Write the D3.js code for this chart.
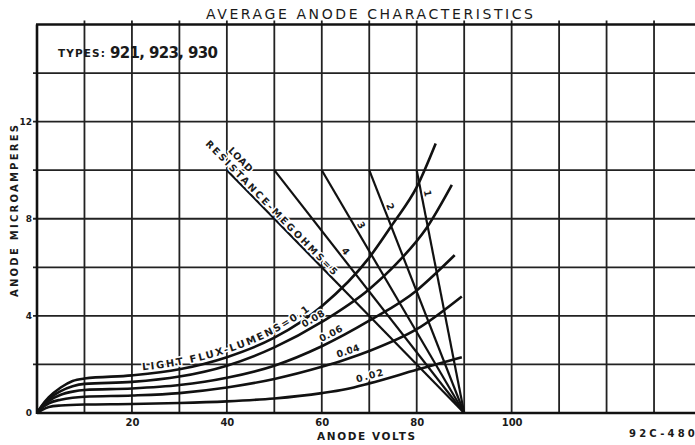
<!DOCTYPE html>
<html><head><meta charset="utf-8">
<script src="https://cdn.jsdelivr.net/npm/d3@7/dist/d3.min.js"></script>
<style>
html,body{margin:0;padding:0;background:#fff;overflow:hidden}
text{font-family:"DejaVu Sans",sans-serif;fill:#1a1a1a}
.lbl{font-weight:bold;paint-order:stroke;stroke:#fff;stroke-width:3px;stroke-linejoin:round}
</style>
</head><body>
<svg id="chart" width="695" height="445"></svg>
<script>
// ---- data ----
const xGrid = [0,10,20,30,40,50,60,70,80,90,100,110,120,130,140];
const yGrid = [0,2,4,6,8,10,12,14,16];
const xTickLabels = [20,40,60,80,100];
const yTickLabels = [0,4,8,12];

const fluxNames = ["0.1","0.08","0.06","0.04","0.02"];
const flux010 = [[0,0],[1,0.3],[2.5,0.65],[5,1.05],[7.5,1.32],[10,1.42],[20,1.55],[30,1.8],[40,2.3],[50,3.1],[60,4.4],[70,6.4],[75,7.8],[80,9.3],[84,11.1]];
const flux008 = [[0,0],[1,0.28],[2.5,0.58],[5,0.9],[7.5,1.1],[10,1.2],[20,1.28],[30,1.5],[40,1.95],[50,2.7],[60,3.75],[70,5.1],[76,6.2],[82,7.6],[87.4,9.4]];
const flux006 = [[0,0],[1,0.25],[2.5,0.5],[5,0.75],[7.5,0.88],[10,0.95],[20,1.01],[30,1.15],[40,1.45],[50,1.95],[60,2.75],[70,3.8],[80,5.05],[84,5.75],[88,6.5]];
const flux004 = [[0,0],[1,0.2],[2.5,0.4],[5,0.55],[7.5,0.63],[10,0.67],[20,0.72],[30,0.82],[40,1.05],[50,1.4],[60,1.9],[65,2.2],[70,2.55],[80,3.45],[89.5,4.8]];
const flux002 = [[0,0],[1,0.12],[2.5,0.25],[5,0.31],[10,0.35],[20,0.37],[30,0.41],[40,0.48],[50,0.6],[60,0.82],[65,0.98],[70,1.22],[80,1.78],[89.5,2.3]];
const fluxSeries = [flux010, flux008, flux006, flux004, flux002];

const loadNames = ["5","4","3","2","1"];
const loadStartVolts = [40,50,60,70,80];
const loadStartCurrent = 10;
const loadEndVolts = 90;

// ---- drawing ----
const svg = d3.select("#chart");
svg.append("rect").attr("width",695).attr("height",445).attr("fill","#fff");

const x = d3.scaleLinear().domain([0,140]).range([37,701.5]);
const y = d3.scaleLinear().domain([0,16]).range([413,24.5]);

const grid = svg.append("g").attr("stroke","#222").attr("stroke-width",1.8);
grid.selectAll(".v").data(xGrid.filter(v=>v>0)).join("line")
  .attr("x1",d=>x(d)).attr("x2",d=>x(d)).attr("y1",y(0)).attr("y2",y(16)-4);
grid.selectAll(".h").data(yGrid.filter(v=>v>0&&v<16)).join("line")
  .attr("x1",x(0)-4).attr("x2",695).attr("y1",d=>y(d)).attr("y2",d=>y(d));

// frame
const fr = svg.append("g").attr("stroke","#111").attr("stroke-width",2.6).attr("fill","none");
fr.append("line").attr("x1",x(0)).attr("x2",x(0)).attr("y1",y(16)).attr("y2",y(0)+1);
fr.append("line").attr("x1",x(0)).attr("x2",695).attr("y1",y(0)).attr("y2",y(0));
fr.append("line").attr("x1",x(0)-1).attr("x2",695).attr("y1",y(16)).attr("y2",y(16));

// axes labels via d3 axes
const yAx = svg.append("g").attr("transform",`translate(${x(0)},0)`)
  .call(d3.axisLeft(y).tickValues(yTickLabels).tickSize(0).tickPadding(5));
yAx.select(".domain").remove();
yAx.selectAll("text").attr("font-family","DejaVu Sans").attr("font-weight","bold").attr("font-size",9).attr("fill","#1a1a1a");

const xAx = svg.append("g").attr("transform",`translate(0,${y(0)})`)
  .call(d3.axisBottom(x).tickValues(xTickLabels).tickSize(0).tickPadding(6));
xAx.select(".domain").remove();
xAx.selectAll("text").attr("font-family","DejaVu Sans").attr("font-weight","bold").attr("font-size",10).attr("fill","#1a1a1a");

// load lines
const loadG = svg.append("g");
loadStartVolts.forEach((v0,i)=>{
  loadG.append("line").attr("x1",x(v0)).attr("y1",y(loadStartCurrent))
    .attr("x2",x(loadEndVolts)).attr("y2",y(0))
    .attr("stroke","#111").attr("stroke-width",2.2);
});

// flux curves
const line = d3.line().x(d=>x(d[0])).y(d=>y(d[1])).curve(d3.curveMonotoneX);
const curveG = svg.append("g");
fluxSeries.forEach((s,i)=>{
  curveG.append("path").attr("id","flux"+i).attr("d",line(s))
    .attr("fill","none").attr("stroke","#111").attr("stroke-width",2.6)
    .attr("stroke-linejoin","round");
});

function lengthAtX(node, tx){
  let lo=0, hi=node.getTotalLength();
  for(let k=0;k<40;k++){const m=(lo+hi)/2; if(node.getPointAtLength(m).x<tx) lo=m; else hi=m;}
  return lo;
}

// curve labels
const curveLabels = [
  {i:0, text:"LIGHT FLUX-LUMENS="+fluxNames[0], sx:143, len:182, fs:10},
  {i:1, text:fluxNames[1], sx:306, len:25, fs:9.5},
  {i:2, text:fluxNames[2], sx:323, len:25, fs:9.5},
  {i:3, text:fluxNames[3], sx:339, len:24, fs:9.5},
  {i:4, text:fluxNames[4], sx:358, len:28, fs:9.5}
];
curveLabels.forEach(c=>{
  const node = document.getElementById("flux"+c.i);
  const L = lengthAtX(node, c.sx);
  svg.append("text").attr("class","lbl").attr("font-size",c.fs).attr("dy",-4)
    .append("textPath").attr("href","#flux"+c.i).attr("startOffset",L)
    .attr("textLength",c.len).attr("lengthAdjust","spacing").text(c.text);
});

// load line labels
function loadFrame(i){
  const x0=x(loadStartVolts[i]), y0=y(loadStartCurrent), x1=x(loadEndVolts), y1=y(0);
  const ang=Math.atan2(y1-y0,x1-x0)*180/Math.PI;
  const len=Math.hypot(x1-x0,y1-y0);
  return svg.append("g").attr("transform",`translate(${x0},${y0}) rotate(${ang})`).datum(len);
}
const f5 = loadFrame(0);
f5.append("text").attr("class","lbl").attr("font-size",9.5).attr("x",-34).attr("y",-2.5)
  .attr("textLength",184).attr("lengthAdjust","spacing").text("RESISTANCE-MEGOHMS="+loadNames[0]);
f5.append("text").attr("class","lbl").attr("font-size",9.5).attr("x",-13).attr("y",-14)
  .attr("textLength",30).attr("lengthAdjust","spacing").text("LOAD");
const loadLabelT = [null,0.35,0.24,0.16,0.1];
for(let i=1;i<5;i++){
  const g = loadFrame(i);
  const len = g.datum();
  g.append("text").attr("class","lbl").attr("font-size",9.5).attr("text-anchor","middle")
    .attr("x",len*loadLabelT[i]).attr("y",-3).text(loadNames[i]);
}

// titles
svg.append("text").attr("x",206).attr("y",19).attr("font-size",14)
  .attr("textLength",327).attr("lengthAdjust","spacing").text("AVERAGE ANODE CHARACTERISTICS");
svg.append("text").attr("x",58).attr("y",57).attr("font-size",10.5).attr("font-weight","bold")
  .attr("textLength",47).attr("lengthAdjust","spacing").text("TYPES:");
svg.append("text").attr("x",110).attr("y",58).attr("font-size",15).attr("font-weight","bold")
  .attr("textLength",108).attr("lengthAdjust","spacing").text("921, 923, 930");
svg.append("text").attr("x",317).attr("y",440).attr("font-size",10.5).attr("font-weight","bold")
  .attr("textLength",98).attr("lengthAdjust","spacing").text("ANODE VOLTS");
svg.append("text").attr("x",629).attr("y",437).attr("font-size",10).attr("font-weight","bold")
  .attr("textLength",76).attr("lengthAdjust","spacing").text("92C-4800");
svg.append("text").attr("transform","translate(18,297) rotate(-90)").attr("font-size",10).attr("font-weight","bold")
  .attr("textLength",172).attr("lengthAdjust","spacing").text("ANODE MICROAMPERES");
</script>
</body></html>
